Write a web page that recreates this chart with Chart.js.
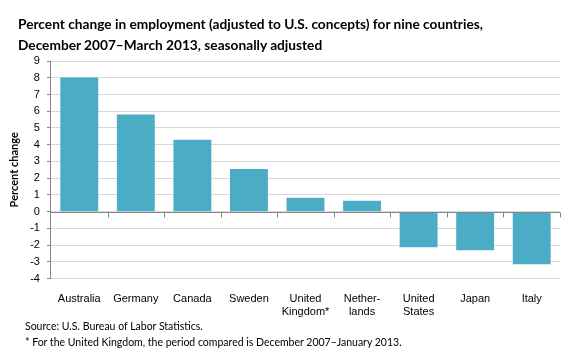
<!DOCTYPE html>
<html>
<head>
<meta charset="utf-8">
<script src="https://cdn.jsdelivr.net/npm/chart.js@4"></script>
<style>
  body { margin: 0; background: #fff; }
  #wrap { position: relative; width: 580px; height: 360px; }
  #title { position: absolute; left: 18px; top: 13px; font-family: Lato, sans-serif; font-weight: bold; font-size: 13.7px; line-height: 21px; color: #000; }
  .note { position: absolute; left: 25px; font-family: Lato, sans-serif; font-size: 10.5px; color: #000; }
</style>
</head>
<body>
<div id="wrap">
  <canvas id="chart" width="580" height="360"></canvas>
  <div id="title">Percent change in employment (adjusted to U.S. concepts) for nine countries,<br>December 2007–March 2013, seasonally adjusted</div>
  <div class="note" style="top:320px">Source: U.S. Bureau of Labor Statistics.</div>
  <div class="note" style="top:336px">* For the United Kingdom, the period compared is December 2007–January 2013.</div>
</div>
<script>
const countries = [
    'Australia', 'Germany', 'Canada', 'Sweden', ['United', 'Kingdom*'],
    ['Nether-', 'lands'], ['United', 'States'], 'Japan', 'Italy'
];
const percentChange = [8.02, 5.8, 4.3, 2.55, 0.83, 0.65, -2.12, -2.3, -3.15];

// tick marks along the zero line, at the category boundaries
const zeroTicks = {
    id: 'zeroTicks',
    afterDatasetsDraw(chart) {
        const x = chart.scales.x, y = chart.scales.y;
        const y0 = Math.round(y.getPixelForValue(0)) + 0.5;
        const ctx = chart.ctx;
        ctx.save();
        ctx.strokeStyle = '#868686';
        ctx.lineWidth = 1;
        ctx.beginPath();
        ctx.moveTo(x.left, y0);
        ctx.lineTo(x.right, y0);
        const step = (x.right - x.left) / countries.length;
        for (let i = 1; i <= countries.length; i++) {
            const px = Math.round(x.left + step * i) + 0.5;
            ctx.moveTo(px, y0);
            ctx.lineTo(px, y0 + 5);
        }
        ctx.stroke();
        ctx.restore();
    }
};

new Chart(document.getElementById('chart'), {
    type: 'bar',
    data: {
        labels: countries,
        datasets: [{
            data: percentChange,
            backgroundColor: '#4BACC6',
            categoryPercentage: 0.67,
            barPercentage: 1
        }]
    },
    options: {
        responsive: false,
        animation: false,
        layout: { padding: { left: 8, right: 20, bottom: 35, top: 61 } },
        plugins: {
            legend: { display: false },
            tooltip: { enabled: false }
        },
        scales: {
            x: {
                grid: { display: false },
                border: { display: false },
                ticks: {
                    color: '#000',
                    font: { family: 'Liberation Sans', size: 11 },
                    maxRotation: 0,
                    padding: 6
                }
            },
            y: {
                min: -4,
                max: 9,
                ticks: {
                    stepSize: 1,
                    autoSkip: false,
                    color: '#000',
                    font: { family: 'Liberation Sans', size: 11 },
                    padding: 7
                },
                grid: { color: '#d9d9d9', tickColor: '#868686', tickLength: 4 },
                border: { color: '#868686' },
                title: {
                    display: true,
                    text: 'Percent change',
                    color: '#000',
                    font: { family: 'Lato', size: 11, weight: 'bold' },
                    padding: { top: 0, bottom: 2 }
                }
            }
        }
    },
    plugins: [zeroTicks]
});
</script>
</body>
</html>
